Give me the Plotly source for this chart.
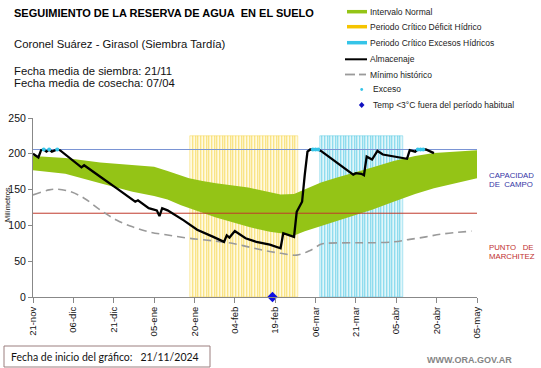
import plotly.graph_objects as go
import pandas as pd

# ---------------- data ----------------
start_date = pd.Timestamp("2024-11-21")
end_date = pd.Timestamp("2025-05-05")

tick_dates = ["2024-11-21", "2024-12-06", "2024-12-21", "2025-01-05", "2025-01-20", "2025-02-04",
              "2025-02-19", "2025-03-06", "2025-03-21", "2025-04-05", "2025-04-20", "2025-05-05"]
tick_labels = ["21-nov", "06-dic", "21-dic", "05-ene", "20-ene", "04-feb",
               "19-feb", "06-mar", "21-mar", "05-abr", "20-abr", "05-may"]

# Intervalo normal (days since 21-nov)
band_day = [0, 12, 25, 37, 45, 50, 55, 58, 63, 68, 80, 88, 92, 97, 101, 107, 113, 119, 126, 134, 142, 149, 157, 165]
band_upper = [197, 194, 188, 184, 182, 176, 170, 166, 162, 159, 153, 147, 143, 144, 150, 160, 167, 173, 181, 190, 197, 201, 203, 205]
band_lower = [177, 172, 159, 147, 141, 136, 128, 124, 117, 111, 98, 91, 89, 86, 92, 99, 106, 114, 122, 133, 144, 152, 159, 166]

# Mínimo histórico
min_day = [0, 6, 9, 14, 19, 25, 31, 37, 43, 50, 58, 68, 74, 80, 86, 92, 98, 103, 107, 109, 119, 125, 134, 140, 146, 152, 163]
min_val = [142.6, 149.6, 150.6, 147, 138, 121.6, 107.6, 98, 91, 86.5, 82, 78, 75, 70, 65, 61, 58.5, 65, 73.5, 75, 75.7, 75.7, 77, 80.5, 84, 88, 92]

# Almacenaje
alm_day = [0, 2, 3, 4, 5, 6, 7, 9, 10, 18, 19, 21, 25, 31, 37, 38, 39, 43, 46, 47, 48, 50, 56, 61, 67, 71, 72, 73,
           75, 79, 83, 88, 92, 93, 97, 98, 99, 100, 101, 102, 103, 106, 107, 119, 120, 122, 123, 124, 126, 128, 130,
           139, 140, 142, 143, 146, 149]
alm_val = [200, 195, 205, 206, 203, 206, 203, 206, 205, 181, 184, 179, 168, 152, 136, 133, 135, 124, 121, 113, 124, 121,
           107, 94, 84, 77, 86, 83, 92, 82, 77, 73, 68, 89, 84, 119, 126, 133, 171, 203, 206, 206, 204, 171, 173, 172,
           170, 196, 192, 204, 199, 193, 205, 203, 206, 206, 201]

# Exceso
exceso_day = [4, 6, 9, 104, 105, 106, 143, 144, 145]
exceso_val = [206, 206, 206, 206, 206, 206, 206, 206, 206]

# Temp <3°C
temp_day = [89]
temp_val = [0]

# Periodos críticos
deficit_start, deficit_end = "2025-01-19", "2025-02-27"
exceso_start, exceso_end = "2025-03-08", "2025-04-07"
periodo_top = 225

capacidad_campo = 206
punto_marchitez = 117

# ---------------- helpers ----------------
def to_dates(days):
    return [start_date + pd.Timedelta(days=d) for d in days]

L, R, T, B = 33, 477, 118, 297
W, H = R - L, B - T


def xp(px):
    return (px - L) / W


def yp(py):
    return (B - py) / H


GREEN = "#94c416"
YELLOW = "#f5c400"
CYAN = "#35c4e8"
FONT = "Liberation Sans, Arial, sans-serif"

fig = go.Figure()

# band
fig.add_trace(go.Scatter(x=to_dates(band_day), y=band_lower, mode="lines", line=dict(width=0, color=GREEN),
                         showlegend=False, hoverinfo="skip"))
fig.add_trace(go.Scatter(x=to_dates(band_day), y=band_upper, mode="lines", line=dict(width=0, color=GREEN),
                         fill="tonexty", fillcolor=GREEN, showlegend=False, hoverinfo="skip"))

# critical periods as daily bars
day_ms = 86400000
d_dates = pd.date_range(deficit_start, deficit_end, freq="D")
fig.add_trace(go.Bar(x=d_dates, y=[periodo_top] * len(d_dates), width=day_ms,
                     marker=dict(color="rgba(255,240,170,0.35)", line=dict(color="rgba(242,200,10,0.65)", width=0.5)),
                     showlegend=False, hoverinfo="skip"))
e_dates = pd.date_range(exceso_start, exceso_end, freq="D")
fig.add_trace(go.Bar(x=e_dates, y=[periodo_top] * len(e_dates), width=day_ms,
                     marker=dict(color="rgba(170,230,242,0.35)", line=dict(color="rgba(40,185,220,0.7)", width=0.5)),
                     showlegend=False, hoverinfo="skip"))

# reference lines
fig.add_trace(go.Scatter(x=[start_date, end_date], y=[capacidad_campo] * 2, mode="lines",
                         line=dict(color="#7a94d4", width=1.2), showlegend=False, hoverinfo="skip"))
fig.add_trace(go.Scatter(x=[start_date, end_date], y=[punto_marchitez] * 2, mode="lines",
                         line=dict(color="#c0392b", width=1), showlegend=False, hoverinfo="skip"))

# minimo historico
fig.add_trace(go.Scatter(x=to_dates(min_day), y=min_val, mode="lines",
                         line=dict(color="#9a9a9a", width=1.6, dash="8px,5px", shape="spline"),
                         showlegend=False, hoverinfo="skip"))
# almacenaje
fig.add_trace(go.Scatter(x=to_dates(alm_day), y=alm_val, mode="lines", line=dict(color="black", width=2.3),
                         showlegend=False))
# exceso
fig.add_trace(go.Scatter(x=to_dates(exceso_day), y=exceso_val, mode="markers", marker=dict(color=CYAN, size=4),
                         showlegend=False))
# temp
fig.add_trace(go.Scatter(x=to_dates(temp_day), y=temp_val, mode="markers", cliponaxis=False,
                         marker=dict(color="#1010e0", size=8, symbol="diamond"), showlegend=False))

# ---------------- layout ----------------
fig.update_layout(
    width=541, height=368,
    margin=dict(l=L, r=541 - R, t=T, b=368 - B, pad=0),
    paper_bgcolor="white", plot_bgcolor="white",
    barmode="overlay", bargap=0,
    font=dict(family=FONT, color="#111"),
    showlegend=False,
)
fig.update_xaxes(range=[start_date, end_date], tickvals=tick_dates, ticktext=tick_labels, tickangle=-90,
                 tickfont=dict(size=9.5, family=FONT, color="#111"), showgrid=False, zeroline=False,
                 showline=True, linecolor="#888", linewidth=1, ticks="outside", ticklen=5, tickcolor="#888",
                 automargin=False)
fig.update_yaxes(range=[0, 250], tickvals=[0, 50, 100, 150, 200, 250],
                 tickfont=dict(size=10.5, family=FONT, color="#111"), showgrid=False, zeroline=False,
                 showline=True, linecolor="#888", linewidth=1, ticks="outside", ticklen=4, tickcolor="#888",
                 automargin=False)

ann = []


def add_text(text, px, py, size, color="#111", xanchor="left", bold=False, angle=0, family=FONT):
    ann.append(dict(text=("<b>%s</b>" % text) if bold else text, x=xp(px), y=yp(py), xref="paper", yref="paper",
                    xanchor=xanchor, yanchor="middle", showarrow=False, textangle=angle,
                    font=dict(size=size, color=color, family=family)))


add_text("SEGUIMIENTO DE LA RESERVA DE AGUA&nbsp; EN EL SUELO", 12, 13, 11, bold=True, color="#000")
add_text("Coronel Suárez - Girasol (Siembra Tardía)", 12, 44, 11.3)
add_text("Fecha media de siembra: 21/11", 12, 70.5, 11.3)
add_text("Fecha media de cosecha: 07/04", 12, 82.5, 11.3)

# manual legend
shapes = []
leg_rows = [11.7, 26.7, 42.7, 59.3, 74.5, 89.5, 105]
for color, row in [(GREEN, leg_rows[0]), (YELLOW, leg_rows[1]), (CYAN, leg_rows[2])]:
    shapes.append(dict(type="line", xref="paper", yref="paper", x0=xp(347), x1=xp(367), y0=yp(row), y1=yp(row),
                       line=dict(color=color, width=3.5)))
shapes.append(dict(type="line", xref="paper", yref="paper", x0=xp(345), x1=xp(367), y0=yp(leg_rows[3]), y1=yp(leg_rows[3]),
                   line=dict(color="black", width=2)))
shapes.append(dict(type="line", xref="paper", yref="paper", x0=xp(345), x1=xp(355), y0=yp(leg_rows[4]), y1=yp(leg_rows[4]),
                   line=dict(color="#9a9a9a", width=1.8)))
shapes.append(dict(type="line", xref="paper", yref="paper", x0=xp(359), x1=xp(366), y0=yp(leg_rows[4]), y1=yp(leg_rows[4]),
                   line=dict(color="#9a9a9a", width=1.8)))
shapes.append(dict(type="circle", xref="paper", yref="paper", x0=xp(360.3), x1=xp(363.1), y0=yp(leg_rows[5] - 1.4),
                   y1=yp(leg_rows[5] + 1.4), line=dict(width=0), fillcolor=CYAN))
shapes.append(dict(type="path", xref="paper", yref="paper",
                   path="M %f,%f L %f,%f L %f,%f L %f,%f Z" % (xp(361.7), yp(leg_rows[6] - 3), xp(364.5), yp(leg_rows[6]),
                                                           xp(361.7), yp(leg_rows[6] + 3), xp(358.9), yp(leg_rows[6])),
                   line=dict(width=0), fillcolor="#1010c0"))
leg_texts = ["Intervalo Normal", "Periodo Crítico Déficit Hídrico", "Periodo Crítico Excesos Hídricos",
             "Almacenaje", "Mínimo histórico", "Exceso", "Temp <3°C fuera del período habitual"]
for i, t in enumerate(leg_texts):
    add_text(t, 368 if i < 5 else 371, leg_rows[i], 8.5, color="#222")

# y title
add_text("Milímetros", 7, 205, 7.5, xanchor="center", angle=-90)

# right labels
add_text("CAPACIDAD", 487, 175, 7.8, color="#3535a5")
add_text("DE&nbsp; CAMPO", 487, 184.5, 7.8, color="#3535a5")
add_text("PUNTO&nbsp;&nbsp; DE", 487, 247, 7.8, color="#c03030")
add_text("MARCHITEZ", 487, 256.5, 7.8, color="#c03030")

# footer
shapes.append(dict(type="rect", xref="paper", yref="paper", x0=xp(4), x1=xp(210), y0=yp(346), y1=yp(367),
                   line=dict(color="#9b7f7f", width=1), fillcolor="white"))
add_text("Fecha de inicio del gráfico:&nbsp;&nbsp; 21/11/2024", 9, 357, 10.5, family="Lato, Carlito, sans-serif", color="#111")
add_text("WWW.ORA.GOV.AR", 469, 360, 9, color="#858585", xanchor="center", bold=True)

fig.update_layout(annotations=ann, shapes=shapes)

fig.write_html("out.html", config={"displayModeBar": False},
               post_script="document.body.style.margin='0';document.body.style.padding='0';")
